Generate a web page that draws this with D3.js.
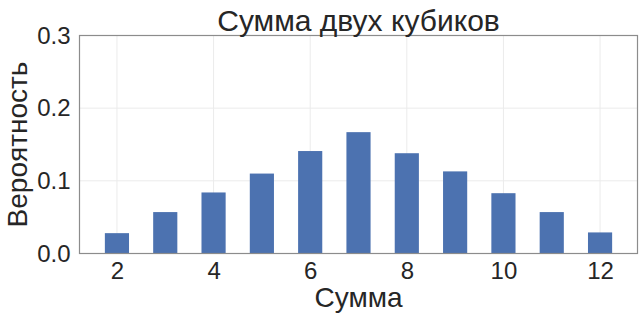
<!DOCTYPE html>
<html>
<head>
<meta charset="utf-8">
<script src="https://cdn.jsdelivr.net/npm/d3@7"></script>
<style>
  body { margin: 0; background: #fff; }
  text { font-family: "Liberation Sans", Arial, sans-serif; fill: #262626; }
</style>
</head>
<body>
<div id="chart"></div>
<script>
// sums of two dice and their observed frequencies
var sums = [2, 3, 4, 5, 6, 7, 8, 9, 10, 11, 12];
var probs = [0.028, 0.057, 0.084, 0.110, 0.141, 0.167, 0.138, 0.113, 0.083, 0.057, 0.029];
var xTicks = [2, 4, 6, 8, 10, 12];
var yTicks = [0.0, 0.1, 0.2, 0.3];

var width = 644, height = 320;
var margin = {top: 35.5, right: 6.5, bottom: 66.5, left: 79.5};

var svg = d3.select("#chart").append("svg")
    .attr("width", width)
    .attr("height", height);

var x = d3.scaleLinear().domain([1.225, 12.775]).range([margin.left, width - margin.right]);
var y = d3.scaleLinear().domain([0, 0.3]).range([height - margin.bottom, margin.top]);

// grid
svg.append("g").selectAll("line.vg").data(xTicks).enter().append("line")
    .attr("x1", function(d){ return x(d); }).attr("x2", function(d){ return x(d); })
    .attr("y1", y(0)).attr("y2", y(0.3))
    .attr("stroke", "#ebebeb").attr("stroke-width", 1);
svg.append("g").selectAll("line.hg").data(yTicks).enter().append("line")
    .attr("x1", x.range()[0]).attr("x2", x.range()[1])
    .attr("y1", function(d){ return y(d); }).attr("y2", function(d){ return y(d); })
    .attr("stroke", "#ebebeb").attr("stroke-width", 1);

// bars, width 0.5
svg.append("g").selectAll("rect").data(sums).enter().append("rect")
    .attr("x", function(d){ return x(d - 0.25); })
    .attr("width", function(d){ return x(d + 0.25) - x(d - 0.25); })
    .attr("y", function(d, i){ return y(probs[i]); })
    .attr("height", function(d, i){ return y(0) - y(probs[i]); })
    .attr("fill", "#4c72b0");

// spines
svg.append("rect")
    .attr("x", x.range()[0]).attr("y", y(0.3))
    .attr("width", x.range()[1] - x.range()[0])
    .attr("height", y(0) - y(0.3))
    .attr("fill", "none").attr("stroke", "#8c8c8c").attr("stroke-width", 1.2);

// axes (labels only)
var xAxis = svg.append("g")
    .attr("transform", "translate(0," + y(0) + ")")
    .call(d3.axisBottom(x).tickValues(xTicks).tickSize(0).tickPadding(8).tickFormat(d3.format("d")));
var yAxis = svg.append("g")
    .attr("transform", "translate(" + x.range()[0] + ",0)")
    .call(d3.axisLeft(y).tickValues(yTicks).tickSize(0).tickPadding(9).tickFormat(d3.format(".1f")));
[xAxis, yAxis].forEach(function(a){
  a.select(".domain").remove();
  a.selectAll("text").attr("font-size", 24).attr("font-family", "Liberation Sans, Arial, sans-serif").attr("fill", "#262626");
});

// title and axis labels
var cx = (x.range()[0] + x.range()[1]) / 2;
svg.append("text").attr("x", cx).attr("y", 31).attr("text-anchor", "middle")
    .attr("font-size", 30).text("Сумма двух кубиков");
svg.append("text").attr("x", cx).attr("y", 307).attr("text-anchor", "middle")
    .attr("font-size", 28).text("Сумма");
svg.append("text")
    .attr("transform", "translate(27," + ((y(0) + y(0.3)) / 2) + ") rotate(-90)")
    .attr("text-anchor", "middle")
    .attr("font-size", 28).text("Вероятность");
</script>
</body>
</html>
